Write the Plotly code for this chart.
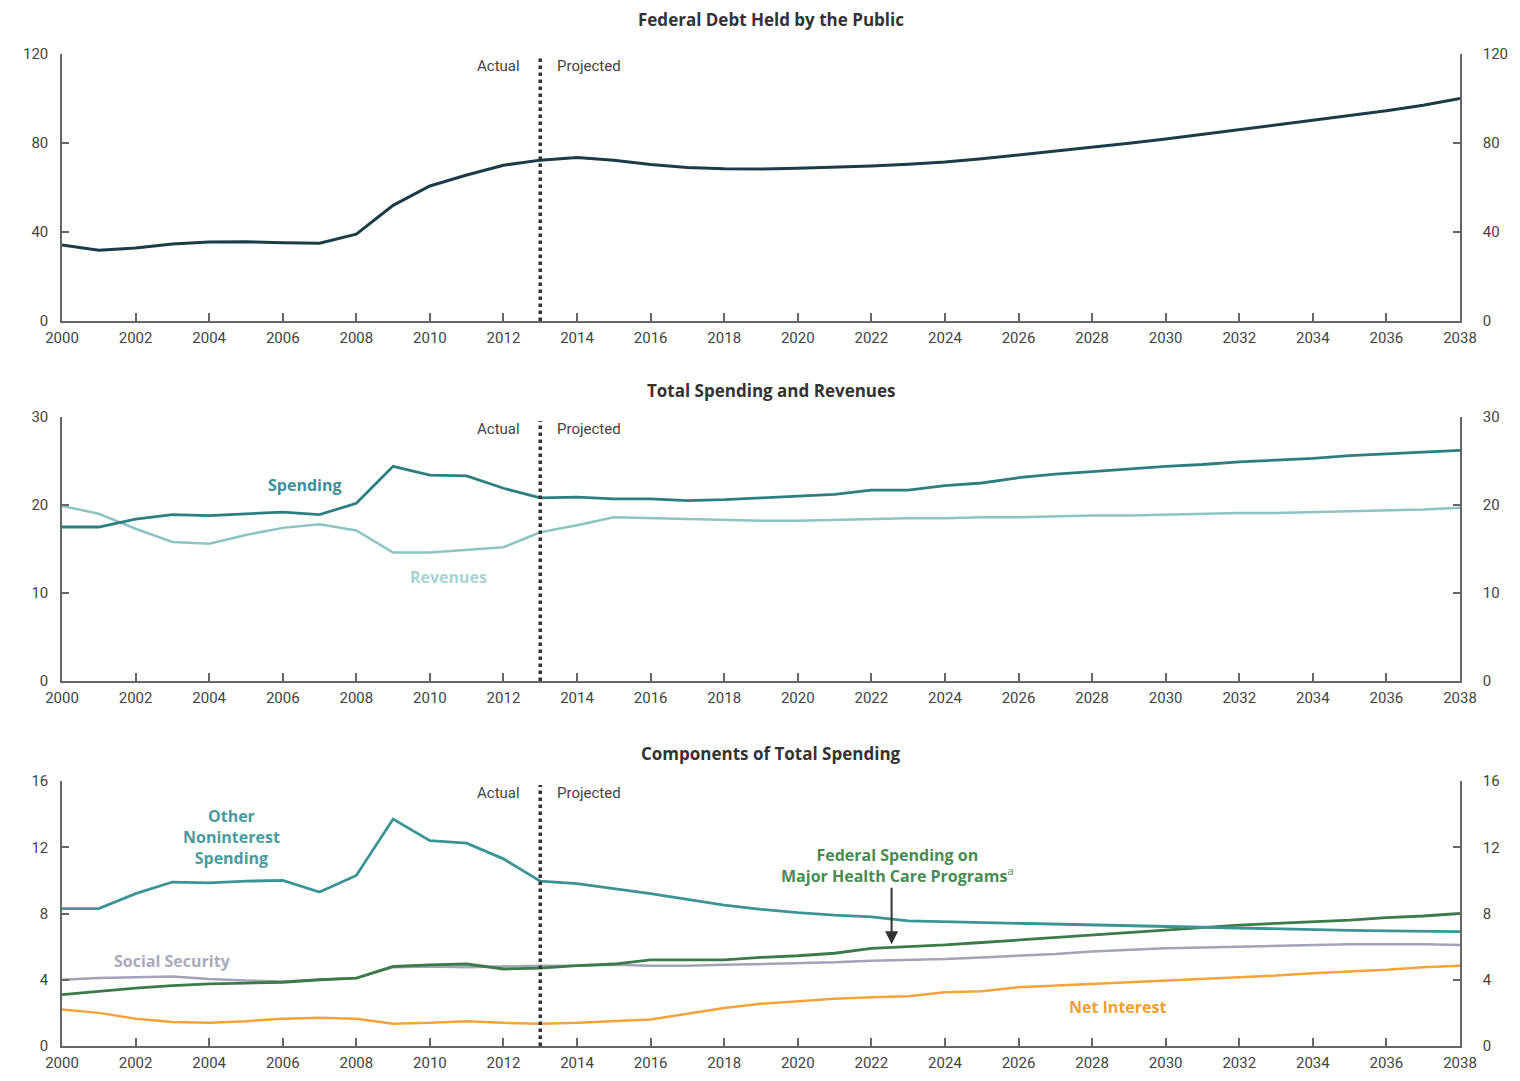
import plotly.graph_objects as go

years = list(range(2000, 2039))

debt = [34.2, 31.8, 32.8, 34.6, 35.5, 35.6, 35.2, 35.0, 39.0, 52.0, 60.7, 65.6, 70.0, 72.3,
        73.5, 72.2, 70.3, 69.0, 68.4, 68.3, 68.6, 69.1, 69.7, 70.5, 71.5, 72.9, 74.6, 76.3,
        78.0, 79.9, 81.8, 83.9, 86.0, 88.0, 90.1, 92.2, 94.5, 97.0, 100.0]

spending = [17.5, 17.5, 18.4, 18.9, 18.8, 19.0, 19.2, 18.9, 20.2, 24.4, 23.4, 23.3, 21.9, 20.8,
            20.9, 20.7, 20.7, 20.5, 20.6, 20.8, 21.0, 21.2, 21.7, 21.7, 22.2, 22.5, 23.1, 23.5,
            23.8, 24.1, 24.4, 24.6, 24.9, 25.1, 25.3, 25.6, 25.8, 26.0, 26.2]

revenues = [19.9, 19.0, 17.3, 15.8, 15.6, 16.6, 17.4, 17.8, 17.1, 14.6, 14.6, 14.9, 15.2, 16.9,
            17.7, 18.6, 18.5, 18.4, 18.3, 18.2, 18.2, 18.3, 18.4, 18.5, 18.5, 18.6, 18.6, 18.7,
            18.8, 18.8, 18.9, 19.0, 19.1, 19.1, 19.2, 19.3, 19.4, 19.5, 19.7]

other_nonint = [8.3, 8.3, 9.2, 9.9, 9.85, 9.95, 10.0, 9.3, 10.3, 13.7, 12.4, 12.25, 11.3, 9.95,
                9.8, 9.5, 9.2, 8.85, 8.5, 8.25, 8.05, 7.9, 7.8, 7.55, 7.5, 7.45, 7.4, 7.35,
                7.3, 7.25, 7.2, 7.15, 7.1, 7.05, 7.0, 6.98, 6.95, 6.92, 6.9]

health = [3.1, 3.3, 3.5, 3.65, 3.75, 3.8, 3.85, 4.0, 4.1, 4.8, 4.9, 4.95, 4.65, 4.7,
          4.85, 4.95, 5.2, 5.2, 5.2, 5.35, 5.45, 5.6, 5.9, 6.0, 6.1, 6.25, 6.4, 6.55,
          6.7, 6.85, 7.0, 7.15, 7.3, 7.4, 7.5, 7.6, 7.75, 7.85, 8.0]

social_security = [4.0, 4.1, 4.15, 4.2, 4.05, 3.95, 3.9, 4.0, 4.1, 4.75, 4.8, 4.75, 4.8, 4.85,
                   4.85, 4.9, 4.85, 4.85, 4.9, 4.95, 5.0, 5.05, 5.15, 5.2, 5.25, 5.35, 5.45, 5.55,
                   5.7, 5.8, 5.9, 5.95, 6.0, 6.05, 6.1, 6.15, 6.15, 6.15, 6.1]

net_interest = [2.2, 2.0, 1.65, 1.45, 1.4, 1.5, 1.65, 1.7, 1.65, 1.35, 1.4, 1.5, 1.4, 1.35,
                1.4, 1.5, 1.6, 1.95, 2.3, 2.55, 2.7, 2.85, 2.95, 3.0, 3.25, 3.3, 3.55, 3.65,
                3.75, 3.85, 3.95, 4.05, 4.15, 4.25, 4.4, 4.5, 4.6, 4.75, 4.85]

x_ticks = list(range(2000, 2039, 2))
panel_titles = ["Federal Debt Held by the Public", "Total Spending and Revenues",
                "Components of Total Spending"]
y_ranges = [[0, 120], [0, 30], [0, 16]]
y_ticks = [[0, 40, 80, 120], [0, 10, 20, 30], [0, 4, 8, 12, 16]]
split_year = 2013

# page body has an 8px margin; figure sized to fit inside the window
OFF = 8
W, H = 1504, 1065
x_dom = [(62 - OFF) / W, (1460 - OFF) / W]
panels_px = [(54, 321), (417, 681), (781, 1046)]
y_doms = [[1 - (b - OFF) / H, 1 - (t - OFF) / H] for t, b in panels_px]

TICK_FONT = dict(family="Roboto, Liberation Sans Narrow, sans-serif", size=15, color="#444")
AX_COL = "#666"

fig = go.Figure()

def add_line(x, y, color, width, idx):
    xa = "x" if idx == 1 else f"x{idx}"
    ya = "y" if idx == 1 else f"y{idx}"
    fig.add_trace(go.Scatter(x=x, y=y, mode="lines", line=dict(color=color, width=width),
                             xaxis=xa, yaxis=ya, showlegend=False, hoverinfo="skip"))

add_line(years, debt, "#1d3b47", 3, 1)
add_line(years, revenues, "#8ec3c3", 2.5, 2)
add_line(years, spending, "#2e7d80", 2.8, 2)
add_line(years, net_interest, "#f2a33a", 2.5, 3)
add_line(years, social_security, "#a3a3b8", 2.5, 3)
add_line(years, health, "#3c7a4a", 2.8, 3)
add_line(years, other_nonint, "#3b9396", 2.8, 3)

# invisible traces for right-side axes
for i, yy in zip([4, 5, 6], [debt, spending, other_nonint]):
    fig.add_trace(go.Scatter(x=years, y=yy, mode="lines", line=dict(width=0), opacity=0,
                             xaxis="x" if i == 4 else f"x{i-3}", yaxis=f"y{i}",
                             showlegend=False, hoverinfo="skip"))

layout = dict(width=W, height=H, margin=dict(l=0, r=0, t=0, b=0, autoexpand=False),
              template="none",
              paper_bgcolor="white", plot_bgcolor="white", showlegend=False)

common = dict(ticks="inside", tickcolor=AX_COL, tickwidth=1.5, showline=True, linecolor=AX_COL,
              linewidth=1.5, showgrid=False, zeroline=False, tickfont=TICK_FONT,
              automargin=False, fixedrange=True)

for i in range(3):
    n = "" if i == 0 else str(i + 1)
    layout[f"xaxis{n}"] = dict(domain=x_dom, range=[2000, 2038], tickvals=x_ticks, ticklen=8,
                               anchor="y" if i == 0 else f"y{i+1}", ticklabelstandoff=2, **common)
    layout[f"yaxis{n}"] = dict(domain=y_doms[i], range=y_ranges[i], tickvals=y_ticks[i],
                               ticklen=7, anchor="x" if i == 0 else f"x{i+1}",
                               ticklabelstandoff=9, **common)
    layout[f"yaxis{i+4}"] = dict(domain=y_doms[i], range=y_ranges[i], tickvals=y_ticks[i],
                                 overlaying="y" if i == 0 else f"y{i+1}", side="right",
                                 ticklen=7, anchor="x" if i == 0 else f"x{i+1}",
                                 ticklabelstandoff=18, **common)

fig.update_layout(**layout)

shapes = []
annotations = []
title_y_px = [20, 390, 753]
lab_font = dict(family="Roboto, Liberation Sans Narrow, sans-serif", size=15, color="#444")
for i in range(3):
    xr = "x" if i == 0 else f"x{i+1}"
    yr = "y" if i == 0 else f"y{i+1}"
    shapes.append(dict(type="line", xref=xr, yref=f"{yr} domain", x0=split_year, x1=split_year,
                       y0=0, y1=0.985, line=dict(color="#333", width=3.5, dash="dot")))
    annotations.append(dict(text="Actual", xref=xr, yref=f"{yr} domain", x=split_year - 0.5,
                            y=0.955, xanchor="right", yanchor="middle", showarrow=False,
                            font=lab_font))
    annotations.append(dict(text="Projected", xref=xr, yref=f"{yr} domain", x=split_year + 0.4,
                            y=0.955, xanchor="left", yanchor="middle", showarrow=False,
                            font=lab_font))
    annotations.append(dict(text=f"<b>{panel_titles[i]}</b>", xref="paper", yref="paper",
                            x=(771 - OFF) / W, y=1 - (title_y_px[i] - OFF) / H,
                            xanchor="center", yanchor="middle", showarrow=False,
                            font=dict(family="Open Sans, sans-serif", size=17, color="#333")))

LBL = "Open Sans, sans-serif"
annotations += [
    dict(text="<b>Spending</b>", xref="x2", yref="y2", x=2006.6, y=22.3, showarrow=False,
         font=dict(family=LBL, size=16, color="#3a8f9a")),
    dict(text="<b>Revenues</b>", xref="x2", yref="y2", x=2010.5, y=11.8, showarrow=False,
         font=dict(family=LBL, size=16, color="#a8d2d2")),
    dict(text="<b>Other<br>Noninterest<br>Spending</b>", xref="x3", yref="y3", x=2004.6, y=12.6,
         showarrow=False, font=dict(family=LBL, size=16, color="#4a9aa0")),
    dict(text="<b>Social Security</b>", xref="x3", yref="y3", x=2003.0, y=5.15, showarrow=False,
         font=dict(family=LBL, size=16, color="#aaaabb")),
    dict(text="<b>Federal Spending on<br>Major Health Care Programs</b><sup>a</sup>", xref="x3", yref="y3",
         x=2022.7, y=10.9, showarrow=False,
         font=dict(family=LBL, size=16, color="#4a8a50")),
    dict(text="", xref="x3", yref="y3", x=2022.55, y=6.15, ax=0, ay=-58, showarrow=True,
         arrowhead=2, arrowsize=1.3, arrowwidth=2, arrowcolor="#333"),
    dict(text="<b>Net Interest</b>", xref="x3", yref="y3", x=2028.7, y=2.35, showarrow=False,
         font=dict(family=LBL, size=16, color="#f0a030")),
]

fig.update_layout(shapes=shapes, annotations=annotations)
fig.write_html("out.html")
